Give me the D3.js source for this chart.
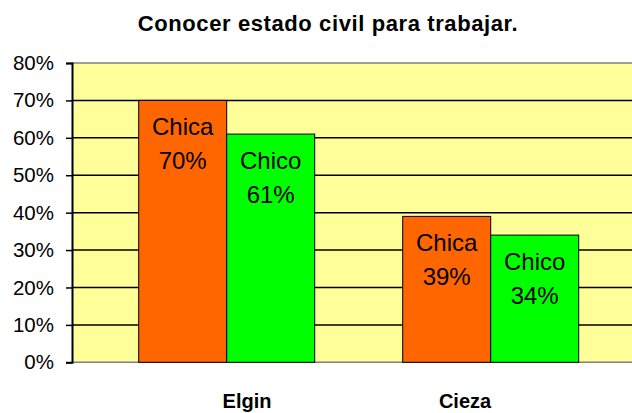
<!DOCTYPE html>
<html>
<head>
<meta charset="utf-8">
<script src="https://cdn.jsdelivr.net/npm/d3@7"></script>
<style>
  body { margin: 0; background: #fff; }
  svg { display: block; font-family: Arial, "Liberation Sans", sans-serif; }
</style>
</head>
<body>
<script>
// ____ data
var categories = ["Elgin", "Cieza"]
var series = ["Chica", "Chico"]
var valuesChica = [0.70, 0.39]
var valuesChico = [0.61, 0.34]
var yTicks = [0, 0.1, 0.2, 0.3, 0.4, 0.5, 0.6, 0.7, 0.8]
var colors = { Chica: "#FF6600", Chico: "#00FF00" }
var title = "Conocer estado civil para trabajar."

var rows = []
categories.forEach(function (c, i) {
  rows.push({ cat: c, s: "Chica", v: valuesChica[i] })
  rows.push({ cat: c, s: "Chico", v: valuesChico[i] })
})

// ____ layout
var W = 632, H = 413
var plot = { left: 72, right: 632, top: 63, bottom: 362.3 }

var svg = d3.select("body").append("svg")
  .attr("width", W)
  .attr("height", H)

var y = d3.scaleLinear().domain([0, 0.8]).range([plot.bottom, plot.top])
var x0 = d3.scaleBand().domain(categories).range([94.7, 622.7]).padding(0)
var x1 = d3.scaleBand().domain(series).range([44, 220]).padding(0)
var xLabel = d3.scalePoint().domain(categories).range([247, 465])

// title
svg.append("text")
  .attr("x", 328)
  .attr("y", 31)
  .attr("text-anchor", "middle")
  .style("font-size", "22px")
  .style("font-weight", "bold")
  .style("letter-spacing", "0.6px")
  .text(title)

// plot background
svg.append("rect")
  .attr("x", plot.left)
  .attr("y", plot.top)
  .attr("width", plot.right - plot.left)
  .attr("height", plot.bottom - plot.top)
  .style("fill", "#FFFF99")

// gridlines
svg.append("g").attr("class", "grid")
  .selectAll("line")
  .data(yTicks)
  .enter().append("line")
    .attr("x1", plot.left)
    .attr("x2", plot.right)
    .attr("y1", function (d) { return y(d) })
    .attr("y2", function (d) { return y(d) })
    .attr("stroke", function (d) { return (d === 0 || d === 0.8) ? "#808080" : "#000" })
    .attr("stroke-width", 1.5)

// bars
var bars = svg.append("g").attr("class", "bars")
  .selectAll("g.bar")
  .data(rows)
  .enter().append("g")
    .attr("class", "bar")
    .attr("transform", function (d) { return "translate(" + (x0(d.cat) + x1(d.s)) + ",0)" })

bars.append("rect")
  .attr("x", 0)
  .attr("y", function (d) { return y(d.v) })
  .attr("width", x1.bandwidth())
  .attr("height", function (d) { return y(0) - y(d.v) })
  .style("fill", function (d) { return colors[d.s] })
  .attr("stroke", "#000")
  .attr("stroke-width", 1)

bars.append("text")
  .attr("x", x1.bandwidth() / 2)
  .attr("y", function (d) { return y(d.v) + 35 })
  .attr("text-anchor", "middle")
  .style("font-size", "24px")
  .text(function (d) { return d.s })

bars.append("text")
  .attr("x", x1.bandwidth() / 2)
  .attr("y", function (d) { return y(d.v) + 69 })
  .attr("text-anchor", "middle")
  .style("font-size", "24px")
  .text(function (d) { return Math.round(d.v * 100) + "%" })

// y axis
var yAxis = d3.axisLeft(y)
  .tickValues(yTicks)
  .tickFormat(d3.format(".0%"))
  .tickSize(6)
  .tickPadding(12)

var gy = svg.append("g")
  .attr("transform", "translate(" + plot.left + ",0)")
  .call(yAxis)
gy.select(".domain").attr("stroke", "#000").attr("stroke-width", 2)
gy.selectAll(".tick line").attr("stroke", "#000").attr("stroke-width", 1.5)
gy.selectAll(".tick text")
  .style("font-size", "20.5px")
  .style("font-family", "Arial, 'Liberation Sans', sans-serif")
  .attr("fill", "#000")

// x labels
svg.append("g").attr("class", "xlabels")
  .selectAll("text")
  .data(categories)
  .enter().append("text")
    .attr("x", function (d) { return xLabel(d) })
    .attr("y", 408)
    .attr("text-anchor", "middle")
    .style("font-size", "20px")
    .style("font-weight", "bold")
    .text(function (d) { return d })
</script>
</body>
</html>
